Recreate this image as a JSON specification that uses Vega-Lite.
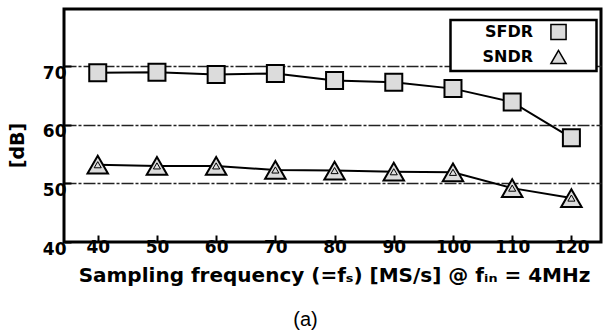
{
  "$schema": "https://vega.github.io/schema/vega-lite/v6.json",
  "width": 537,
  "height": 233,
  "autosize": {"type": "none"},
  "padding": {"left": 64, "top": 9, "right": 2, "bottom": 92},
  "background": "white",
  "config": {
    "view": {"stroke": "black", "strokeWidth": 3},
    "font": "DejaVu Sans",
    "legend": {"strokeWidth": 2.5}
  },
  "title": {"text": "(a)", "orient": "bottom", "anchor": "middle", "dx": -27, "offset": 25, "fontSize": 20, "fontWeight": "normal", "font": "Liberation Sans", "color": "black"},
  "data": {
    "values": [
      {"fs": 40, "series": "SFDR", "dB": 68.9},
      {"fs": 50, "series": "SFDR", "dB": 69.0},
      {"fs": 60, "series": "SFDR", "dB": 68.6},
      {"fs": 70, "series": "SFDR", "dB": 68.8},
      {"fs": 80, "series": "SFDR", "dB": 67.6},
      {"fs": 90, "series": "SFDR", "dB": 67.3},
      {"fs": 100, "series": "SFDR", "dB": 66.2},
      {"fs": 110, "series": "SFDR", "dB": 63.9},
      {"fs": 120, "series": "SFDR", "dB": 57.8},
      {"fs": 40, "series": "SNDR", "dB": 53.2},
      {"fs": 50, "series": "SNDR", "dB": 53.0},
      {"fs": 60, "series": "SNDR", "dB": 53.0},
      {"fs": 70, "series": "SNDR", "dB": 52.3},
      {"fs": 80, "series": "SNDR", "dB": 52.2},
      {"fs": 90, "series": "SNDR", "dB": 52.0},
      {"fs": 100, "series": "SNDR", "dB": 51.9},
      {"fs": 110, "series": "SNDR", "dB": 49.2},
      {"fs": 120, "series": "SNDR", "dB": 47.5}
    ]
  },
  "encoding": {
    "x": {
      "field": "fs", "type": "quantitative",
      "scale": {"domain": [34.3, 125], "nice": false, "zero": false},
      "axis": {
        "values": [40, 50, 60, 70, 80, 90, 100, 110, 120],
        "title": "Sampling frequency (=fₛ) [MS/s] @ fᵢₙ = 4MHz",
        "grid": false, "domain": false,
        "tickSize": -7, "tickWidth": 2, "tickColor": "black",
        "labelFont": "DejaVu Sans", "labelFontSize": 17, "labelFontWeight": "bold", "labelColor": "black",
        "labelPadding": 4, "labelFlush": false,
        "titleFont": "DejaVu Sans", "titleFontSize": 20, "titleFontWeight": "bold", "titleColor": "black",
        "titleY": 39, "titleX": 270, "titleBaseline": "alphabetic"
      }
    },
    "y": {
      "field": "dB", "type": "quantitative",
      "scale": {"domain": [40, 79.8], "nice": false, "zero": false},
      "axis": {
        "values": [40, 50, 60, 70],
        "title": "[dB]",
        "grid": true, "gridDash": [12, 2, 3, 2], "gridColor": "#222", "gridWidth": 1.3,
        "gridOpacity": {"condition": {"test": "datum.value === 40", "value": 0}, "value": 1},
        "domain": false,
        "tickSize": -7, "tickWidth": 2, "tickColor": "black",
        "labelFont": "DejaVu Sans", "labelFontSize": 17, "labelFontWeight": "bold", "labelColor": "black",
        "labelBaseline": "top", "labelPadding": 5, "labelOffset": -1,
        "titleFont": "DejaVu Sans", "titleFontSize": 19, "titleFontWeight": "bold", "titleColor": "black",
        "titleX": -47, "titleY": 136, "titleAngle": -90, "titleAlign": "center", "titleBaseline": "middle"
      }
    }
  },
  "layer": [
    {
      "mark": {"type": "line", "color": "black", "strokeWidth": 2},
      "encoding": {"detail": {"field": "series"}}
    },
    {
      "transform": [{"filter": "datum.series === 'SFDR'"}],
      "mark": {"type": "point", "filled": true, "fill": "#dcdcdc", "stroke": "black", "strokeWidth": 2, "opacity": 1, "size": 289},
      "encoding": {
        "shape": {
          "field": "series", "type": "nominal",
          "scale": {"domain": ["SFDR", "SNDR"], "range": ["square", "triangle-up"]},
          "legend": {
            "title": " ", "titleOrient": "right", "titlePadding": 24, "titleFontSize": 8,
            "orient": "none", "legendX": 386.5, "legendY": 11,
            "padding": 3.5, "rowPadding": 3,
            "strokeColor": "black", "fillColor": "white",
            "labelAlign": "right", "labelOffset": -34, "symbolOffset": 96,
            "symbolSize": 230,
            "labelFont": "DejaVu Sans", "labelFontWeight": "bold", "labelFontSize": 16, "labelColor": "black",
            "encode": {
              "legend": {"update": {"strokeWidth": {"value": 2.5}}},
              "symbols": {"update": {"stroke": {"value": "black"}, "strokeWidth": {"value": 2}, "fill": {"value": "#dcdcdc"}, "opacity": {"value": 1}}}
            }
          }
        }
      }
    },
    {
      "transform": [{"filter": "datum.series === 'SNDR'"}],
      "mark": {"type": "point", "filled": true, "fill": "#dcdcdc", "stroke": "black", "strokeWidth": 2, "opacity": 1, "size": 420},
      "encoding": {
        "shape": {"field": "series", "type": "nominal"}
      }
    },
    {
      "transform": [{"filter": "datum.series === 'SNDR'"}],
      "mark": {"type": "point", "shape": "triangle-up", "filled": false, "size": 50, "stroke": "black", "strokeWidth": 1, "opacity": 1}
    }
  ]
}
